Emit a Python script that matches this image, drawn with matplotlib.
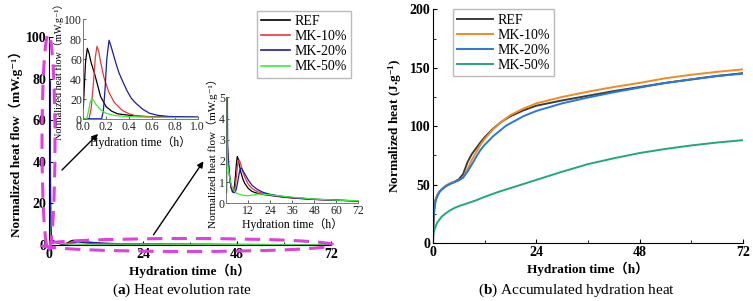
import matplotlib
matplotlib.use("Agg")
import matplotlib.pyplot as plt
import numpy as np
from matplotlib.patches import Ellipse

FAM = ['Liberation Serif', 'DejaVu Serif', 'Noto Sans CJK SC']
plt.rcParams['font.family'] = FAM
plt.rcParams['mathtext.fontset'] = 'custom'
plt.rcParams['mathtext.rm'] = 'Liberation Serif'
plt.rcParams['mathtext.bf'] = 'Liberation Serif:bold'
plt.rcParams['mathtext.it'] = 'Liberation Serif:italic'

series = ['REF', 'MK-10%', 'MK-20%', 'MK-50%']

# ---- heat flow, first hour (mW/g)
ref_t_early = [0, 0.01, 0.02, 0.035, 0.05, 0.07, 0.1, 0.13, 0.15, 0.2, 0.25, 0.3, 0.4, 0.5, 0.6, 0.8, 1.0]
ref_q_early = [11, 35, 58, 71, 66, 56, 45, 32, 23, 12.5, 8, 5.5, 4, 3, 2.6, 2.2, 2.0]
mk10_t_early = [0, 0.05, 0.07, 0.09, 0.105, 0.12, 0.135, 0.15, 0.18, 0.22, 0.27, 0.34, 0.4, 0.46, 0.55, 0.7, 1.0]
mk10_q_early = [0.5, 0.5, 12, 38, 62, 73, 68, 58, 42, 28, 17, 9, 5.5, 3.5, 2.6, 2.2, 2.0]
mk20_t_early = [0, 0.16, 0.175, 0.19, 0.205, 0.225, 0.24, 0.26, 0.28, 0.31, 0.34, 0.38, 0.42, 0.46, 0.52, 0.58, 0.65, 0.75, 1.0]
mk20_q_early = [0.5, 0.5, 8, 30, 60, 79, 74, 66, 58, 47, 39, 29, 21, 16, 10, 6, 4, 2.8, 2.2]
mk50_t_early = [0, 0.03, 0.045, 0.06, 0.075, 0.09, 0.11, 0.14, 0.17, 0.2, 0.25, 0.3, 0.4, 0.5, 0.7, 1.0]
mk50_q_early = [0.5, 0.5, 8, 17, 21, 19, 15, 11, 8, 6, 4.5, 3.5, 2.8, 2.3, 1.9, 1.7]

# ---- heat flow, 1-72 h (mW/g)
ref_t_late = [1.5, 2, 2.5, 3, 3.5, 4, 4.5, 5, 5.5, 6, 6.5, 7, 8, 9, 10, 12, 14, 17, 20, 24, 30, 36, 48, 60, 72]
ref_q_late = [1.5, 1.1, 0.8, 0.62, 0.55, 0.6, 0.85, 1.3, 1.85, 2.2, 2.1, 1.85, 1.45, 1.15, 0.95, 0.7, 0.56, 0.47, 0.42, 0.37, 0.3, 0.25, 0.18, 0.14, 0.11]
mk10_t_late = [1.5, 2, 2.5, 3, 3.5, 4, 4.5, 5, 5.5, 6, 6.5, 7, 7.5, 8, 9, 10, 12, 14, 17, 20, 24, 30, 36, 48, 60, 72]
mk10_q_late = [1.5, 1.1, 0.8, 0.62, 0.53, 0.52, 0.6, 0.85, 1.25, 1.7, 2.0, 2.05, 1.95, 1.8, 1.5, 1.25, 0.9, 0.7, 0.55, 0.47, 0.4, 0.32, 0.26, 0.19, 0.15, 0.11]
mk20_t_late = [1.5, 2, 2.5, 3, 3.5, 4, 4.5, 5, 5.5, 6, 6.5, 7, 7.5, 8, 8.5, 9, 10, 12, 14, 17, 20, 24, 30, 36, 48, 60, 72]
mk20_q_late = [1.6, 1.15, 0.85, 0.65, 0.55, 0.5, 0.5, 0.55, 0.7, 0.9, 1.15, 1.4, 1.58, 1.65, 1.63, 1.55, 1.4, 1.1, 0.85, 0.65, 0.52, 0.42, 0.33, 0.27, 0.19, 0.15, 0.11]
mk50_t_late = [1.5, 2, 3, 4, 5, 6, 8, 10, 12, 14, 16, 18, 20, 24, 30, 36, 48, 60, 72]
mk50_q_late = [1.4, 1.15, 0.8, 0.62, 0.52, 0.46, 0.4, 0.37, 0.36, 0.38, 0.42, 0.44, 0.43, 0.4, 0.34, 0.29, 0.2, 0.15, 0.12]

# ---- accumulated heat (J/g)
ref_t_cum = [0, 0.1, 0.3, 0.6, 1, 1.5, 2, 3, 4, 5, 6, 7, 8, 9, 10, 11, 12, 14, 16, 18, 21, 24, 30, 36, 42, 48, 54, 60, 66, 72]
ref_h_cum = [0, 18, 30, 37, 41, 44, 46, 49, 51, 52.5, 54.5, 59, 69, 76, 81, 86, 90.5, 98, 104, 108.5, 113.5, 117.5, 122, 126, 130, 133.5, 137, 140, 143, 145.3]
mk10_t_cum = [0, 0.1, 0.3, 0.6, 1, 1.5, 2, 3, 4, 5, 6, 7, 8, 9, 10, 11, 12, 14, 16, 18, 21, 24, 30, 36, 42, 48, 54, 60, 66, 72]
mk10_h_cum = [0, 18, 30, 37, 41, 44, 46, 49, 51, 52.5, 53.5, 56, 63, 71, 77.5, 84, 89, 97.5, 104, 109.5, 115, 119.5, 125, 129.5, 133.5, 137, 141, 144, 146.5, 148.6]
mk20_t_cum = [0, 0.1, 0.3, 0.6, 1, 1.5, 2, 3, 4, 5, 6, 7, 8, 9, 10, 11, 12, 14, 17, 21, 24, 30, 36, 42, 48, 54, 60, 66, 72]
mk20_h_cum = [0, 17, 29, 36, 40, 43.5, 45.5, 48.5, 50.5, 52, 53.8, 56, 61, 67, 73.5, 79.5, 84, 91.5, 100.5, 108.5, 113, 119.5, 124.5, 129, 133, 137, 140, 142.8, 145]
mk50_t_cum = [0, 0.3, 0.7, 1, 2, 3, 4, 5, 6, 8, 10, 12, 15, 18, 21, 24, 30, 36, 42, 48, 54, 60, 66, 72]
mk50_h_cum = [7, 11, 15, 17.5, 22.5, 25.5, 28, 30, 31.5, 34, 36.5, 39.5, 43.5, 47, 50.5, 54, 61, 67.5, 72.5, 77, 80.5, 83.5, 86, 88]

flow_colors = ['#000000', '#e8383a', '#1a1ab4', '#3cea3c']
cum_colors = ['#3c3c3c', '#f28a1e', '#2878dc', '#1fa87a']

early_t = [ref_t_early, mk10_t_early, mk20_t_early, mk50_t_early]
early_q = [ref_q_early, mk10_q_early, mk20_q_early, mk50_q_early]
late_t = [ref_t_late, mk10_t_late, mk20_t_late, mk50_t_late]
late_q = [ref_q_late, mk10_q_late, mk20_q_late, mk50_q_late]
cum_t = [ref_t_cum, mk10_t_cum, mk20_t_cum, mk50_t_cum]
cum_h = [ref_h_cum, mk10_h_cum, mk20_h_cum, mk50_h_cum]

W, H = 753, 301
fig = plt.figure(figsize=(W / 100, H / 100), dpi=100)

def px_axes(x0, x1, y_bottom, y_top):
    return fig.add_axes([x0 / W, 1 - y_bottom / H, (x1 - x0) / W, (y_bottom - y_top) / H])

FS_TICK = 10
FS_LAB = 9.5
FLOW_LABEL = 'Normalized heat flow（mW.g⁻¹）'
TIME_LABEL = 'Hydration time（h）'

def style_main(ax):
    for s in ['top', 'right']:
        ax.spines[s].set_visible(False)
    for s in ['left', 'bottom']:
        ax.spines[s].set_linewidth(0.8)
    ax.tick_params(direction='in', length=3, width=0.8, labelsize=FS_TICK, pad=2)
    ax.tick_params(which='minor', direction='in', length=2, width=0.6)
    for lab in ax.get_xticklabels() + ax.get_yticklabels():
        lab.set_fontweight('bold')

# ---------------- left main
axL = px_axes(49, 331, 245, 37)
for i in range(4):
    t = list(early_t[i]) + list(late_t[i])
    q = list(early_q[i]) + list(late_q[i])
    axL.plot(t, q, color=flow_colors[i], lw=1.0)
axL.set_xlim(0, 72)
axL.set_ylim(0, 100)
axL.set_xticks([0, 24, 48, 72])
axL.set_xticks([12, 36, 60], minor=True)
axL.set_yticks([0, 20, 40, 60, 80, 100])
style_main(axL)
axL.set_xlabel(TIME_LABEL, fontsize=FS_LAB, fontweight='bold', labelpad=2)
axL.set_ylabel(FLOW_LABEL, fontsize=FS_LAB, fontweight='bold', labelpad=2)

# ---------------- inset 1 (0-1 h)
def style_inset(ax):
    for s in ['top', 'right']:
        ax.spines[s].set_visible(False)
    for s in ['left', 'bottom']:
        ax.spines[s].set_linewidth(0.6)
        ax.spines[s].set_color('#666666')
    ax.tick_params(direction='in', length=2, width=0.5, labelsize=8.5, pad=1, colors='#222222')
    ax.patch.set_alpha(0)

ax1 = px_axes(83.3, 197.7, 119.3, 19.3)
for i in range(4):
    ax1.plot(early_t[i], early_q[i], color=flow_colors[i], lw=0.9)
ax1.set_xlim(0, 1.0)
ax1.set_ylim(0, 100)
ax1.set_xticks([0.0, 0.2, 0.4, 0.6, 0.8, 1.0])
ax1.set_xticklabels(['0.0', '0.2', '0.4', '0.6', '0.8', '1.0'])
ax1.set_yticks([0, 20, 40, 60, 80, 100])
style_inset(ax1)
ax1.set_xlabel(TIME_LABEL, fontsize=8.5, labelpad=2)
ax1.set_ylabel(FLOW_LABEL, fontsize=7.3, labelpad=0)

# ---------------- inset 2 (0-72 h)
ax2 = px_axes(226.3, 358.3, 203.3, 97.3)
for i in range(4):
    t = list(early_t[i]) + list(late_t[i])
    q = list(early_q[i]) + list(late_q[i])
    ax2.plot(t, q, color=flow_colors[i], lw=0.9)
ax2.set_xlim(0, 72)
ax2.set_ylim(0, 5)
ax2.set_xticks([12, 24, 36, 48, 60, 72])
ax2.set_yticks([0, 1, 2, 3, 4, 5])
style_inset(ax2)
ax2.set_xlabel(TIME_LABEL, fontsize=8.5, labelpad=1)
ax2.set_ylabel(FLOW_LABEL, fontsize=8, labelpad=1)

# legend (left)
handles = [plt.Line2D([], [], color=c, lw=1.2) for c in flow_colors]
fig.legend(handles, series, loc='upper left', bbox_to_anchor=(257 / W, 1 - 11 / H),
           frameon=True, fancybox=False, edgecolor='#aaaaaa', fontsize=10,
           handlelength=2.1, handletextpad=0.3, labelspacing=0.15, borderpad=0.3,
           borderaxespad=0)

# ellipses & arrows
mag = '#e040e0'
fig.add_artist(Ellipse((48.5 / W, 1 - 142 / H), 13 / W, 216 / H, transform=fig.transFigure,
                       fill=False, edgecolor=mag, lw=2.2, ls=(0, (5, 3)), zorder=10))
fig.add_artist(Ellipse((187 / W, 1 - 245 / H), 292 / W, 13 / H, transform=fig.transFigure,
                       fill=False, edgecolor=mag, lw=2.2, ls=(0, (5, 3)), zorder=10))
fig.add_artist(plt.Annotation('', xy=(100 / W, 1 - 132 / H), xytext=(60 / W, 1 - 172 / H),
                              xycoords='figure fraction', textcoords='figure fraction',
                              arrowprops=dict(arrowstyle='-|>', color='black', lw=1.0, mutation_scale=9)))
fig.add_artist(plt.Annotation('', xy=(205 / W, 1 - 159 / H), xytext=(152 / W, 1 - 237 / H),
                              xycoords='figure fraction', textcoords='figure fraction',
                              arrowprops=dict(arrowstyle='-|>', color='black', lw=1.0, mutation_scale=9)))

# ---------------- right panel
axR = px_axes(433, 743, 243, 9.3)
for i in range(4):
    axR.plot(cum_t[i], cum_h[i], color=cum_colors[i], lw=1.4)
axR.set_xlim(0, 72)
axR.set_ylim(0, 200)
axR.set_xticks([0, 24, 48, 72])
axR.set_xticks([12, 36, 60], minor=True)
axR.set_yticks([0, 50, 100, 150, 200])
axR.set_yticks([25, 75, 125, 175], minor=True)
style_main(axR)
axR.set_xlabel(TIME_LABEL, fontsize=FS_LAB, fontweight='bold', labelpad=2)
axR.set_ylabel('Normalized heat (J.g$^{\\mathbf{-1}}$)', fontsize=FS_LAB, fontweight='bold', labelpad=4)
handlesR = [plt.Line2D([], [], color=c, lw=1.4) for c in cum_colors]
fig.legend(handlesR, series, loc='upper left', bbox_to_anchor=(453 / W, 1 - 9.5 / H),
           frameon=True, fancybox=False, edgecolor='#aaaaaa', fontsize=10,
           handlelength=2.6, handletextpad=0.3, labelspacing=0.15, borderpad=0.3,
           borderaxespad=0)

# captions
fig.text(182 / W, 1 - 290 / H, r'($\mathbf{a}$) Heat evolution rate', ha='center', va='center', fontsize=11)
fig.text(577 / W, 1 - 290 / H, r'($\mathbf{b}$) Accumulated hydration heat', ha='center', va='center', fontsize=11)

fig.savefig('out.png', dpi=100)
